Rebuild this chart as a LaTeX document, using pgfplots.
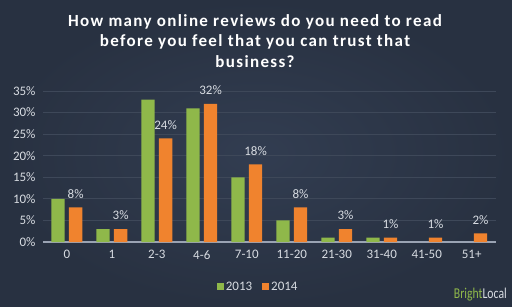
\documentclass[border=0pt]{standalone}
\usepackage{pgfplots}
\pgfplotsset{compat=1.18}
\usepackage{fontspec}
\setmainfont{Carlito}
\newfontfamily\titlefont[LetterSpace=8]{Carlito}
\newfontfamily\logofont[FakeStretch=0.78]{Carlito}
\definecolor{bgc}{HTML}{2C3648}
\definecolor{bgin}{HTML}{323D51}
\definecolor{bgout}{HTML}{283141}
\definecolor{gr}{HTML}{8FB84A}
\definecolor{orng}{HTML}{F0832E}
\definecolor{txt}{HTML}{D8DCE2}
\definecolor{gridc}{HTML}{3E4859}
\definecolor{axc}{HTML}{9AA3B3}
\begin{document}
\begin{tikzpicture}
\shade[inner color=bgin, outer color=bgout] (0,0) rectangle (512bp,307bp);
\useasboundingbox (0,0) rectangle (512bp,307bp);
\node[align=center, text=white, font={\titlefont\fontsize{17bp}{20.5bp}\selectfont\bfseries}] at (255bp,266bp)
 {How many online reviews do you need to read\\before you feel that you can trust that\\business?};
\begin{axis}[
  at={(43bp,65bp)}, anchor=south west,
  scale only axis, width=453bp, height=151bp,
  xmin=-0.53, xmax=9.54, ymin=0, ymax=35,
  ybar, bar width=13.3bp,
  separate axis lines,
  axis x line*=bottom, axis y line*=left,
  x axis line style={draw=axc, line width=1.6bp, -},
  y axis line style={draw=none},
  major tick length=0,
  ytick={0,5,...,35},
  ymajorgrids, grid style={draw=gridc, line width=0.8bp},
  xtick={0,...,9},
  xticklabels={0,1,2-3,4-6,7-10,11-20,21-30,31-40,41-50,51+},
  yticklabel={\pgfmathprintnumber{\tick}\%},
  /pgf/number format/assume math mode=true,
  tick label style={text=txt, font=\fontsize{13bp}{15bp}\selectfont},
  xticklabel style={yshift=-5bp},
  yticklabel style={xshift=-4bp},
  clip=false,
  legend style={at={(0.475,-0.298)}, anchor=center, draw=none, fill=none,
    text=txt, font=\fontsize{13bp}{15bp}\selectfont, legend columns=2,
    /tikz/every even column/.append style={column sep=8bp}},
  legend image code/.code={\fill[#1,draw=none] (0bp,-3.5bp) rectangle (7bp,3.5bp);},
]
\addplot[fill=gr, draw=none, bar shift=-8.8bp] coordinates {
 (0,10) (1,3) (2,33) (3,31) (4,15) (5,5) (6,1) (7,1)};
\addplot[fill=orng, draw=none, bar shift=8.8bp,
  nodes near coords={\pgfmathprintnumber{\pgfplotspointmeta}\%},
  nodes near coords style={text=txt, font=\fontsize{13bp}{15bp}\selectfont, anchor=south, inner sep=0pt, yshift=9bp}] coordinates {
 (0,8) (1,3) (2,24) (3,32) (4,18) (5,8) (6,3) (7,1) (8,1) (9,2)};
\legend{2013,2014}
\end{axis}
\node[anchor=base east, inner sep=0pt, font={\logofont\fontsize{15bp}{17bp}\selectfont}] at (507bp,9bp)
 {\textcolor{gr}{Bright}\textcolor{txt}{Local}};
\end{tikzpicture}
\end{document}
